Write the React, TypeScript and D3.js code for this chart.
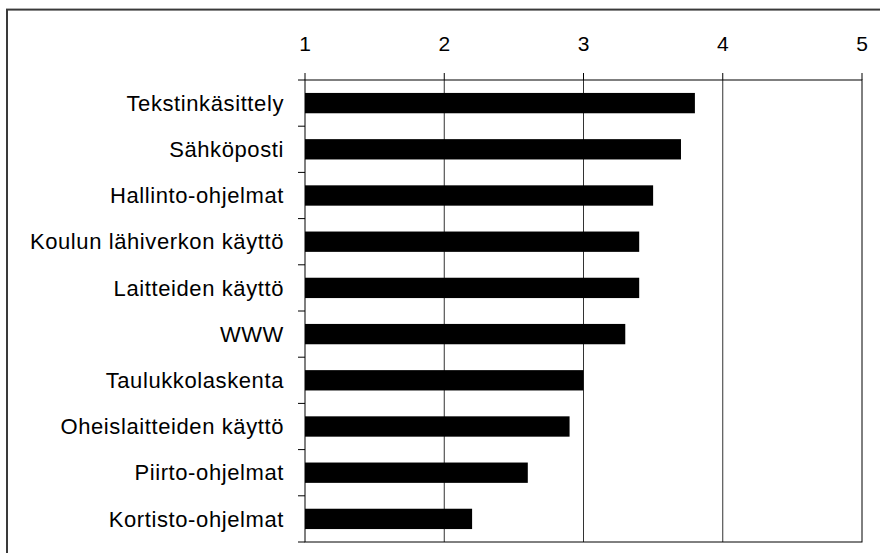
import React from "react";
import * as d3 from "d3";

// Survey averages per software area (scale 1–5)
const categories: string[] = [
  "Tekstinkäsittely",
  "Sähköposti",
  "Hallinto-ohjelmat",
  "Koulun lähiverkon käyttö",
  "Laitteiden käyttö",
  "WWW",
  "Taulukkolaskenta",
  "Oheislaitteiden käyttö",
  "Piirto-ohjelmat",
  "Kortisto-ohjelmat",
];
const values: number[] = [3.8, 3.7, 3.5, 3.4, 3.4, 3.3, 3.0, 2.9, 2.6, 2.2];
const tickValues: number[] = [1, 2, 3, 4, 5];

const W = 880;
const H = 553;
const plot = { left: 305, right: 862, top: 80, bottom: 542 };
const FONT = "Arial, 'Liberation Sans', Helvetica, sans-serif";

export default function App() {
  const x = d3.scaleLinear().domain([1, 5]).range([plot.left, plot.right]);
  const y = d3
    .scaleBand<string>()
    .domain(categories)
    .range([plot.top, plot.bottom])
    .paddingInner(0.56)
    .paddingOuter(0.28);
  const step = (plot.bottom - plot.top) / categories.length;
  const rowEdges = d3.range(categories.length + 1).map((i) => plot.top + i * step);

  return (
    <div style={{ position: "absolute", left: 0, top: 0 }}>
      <svg width={W} height={H} style={{ display: "block", background: "#fff" }}>
        {/* outer chart frame */}
        <rect x={7} y={9.6} width={W + 20} height={H + 20} fill="#fff" stroke="#3a3a3a" strokeWidth={2} />

        {/* vertical gridlines */}
        {tickValues.slice(1, -1).map((t) => (
          <line key={`g${t}`} x1={x(t)} x2={x(t)} y1={plot.top} y2={plot.bottom} stroke="#333" strokeWidth={1} />
        ))}

        {/* bars */}
        {categories.map((c, i) => (
          <rect
            key={c}
            x={x(1)}
            y={y(c)}
            width={x(values[i]) - x(1)}
            height={y.bandwidth()}
            fill="#000"
          />
        ))}

        {/* plot area border */}
        <rect
          x={plot.left}
          y={plot.top}
          width={plot.right - plot.left}
          height={plot.bottom - plot.top}
          fill="none"
          stroke="#000"
          strokeWidth={1}
        />

        {/* top axis ticks and labels */}
        {tickValues.map((t) => (
          <g key={`t${t}`}>
            <line x1={x(t)} x2={x(t)} y1={plot.top} y2={plot.top - 7} stroke="#000" strokeWidth={1} />
            <text x={x(t)} y={50.7} textAnchor="middle" fontFamily={FONT} fontSize={21} fill="#000">
              {t}
            </text>
          </g>
        ))}

        {/* category axis ticks */}
        {rowEdges.map((ry, i) => (
          <line key={`r${i}`} x1={plot.left - 7} x2={plot.left} y1={ry} y2={ry} stroke="#000" strokeWidth={1} />
        ))}

        {/* category labels */}
        {categories.map((c) => (
          <text
            key={`l${c}`}
            x={284}
            y={(y(c) ?? 0) + y.bandwidth() / 2 + 7.6}
            textAnchor="end"
            fontFamily={FONT}
            fontSize={22}
            letterSpacing={0.6}
            fill="#000"
          >
            {c}
          </text>
        ))}
      </svg>
    </div>
  );
}
